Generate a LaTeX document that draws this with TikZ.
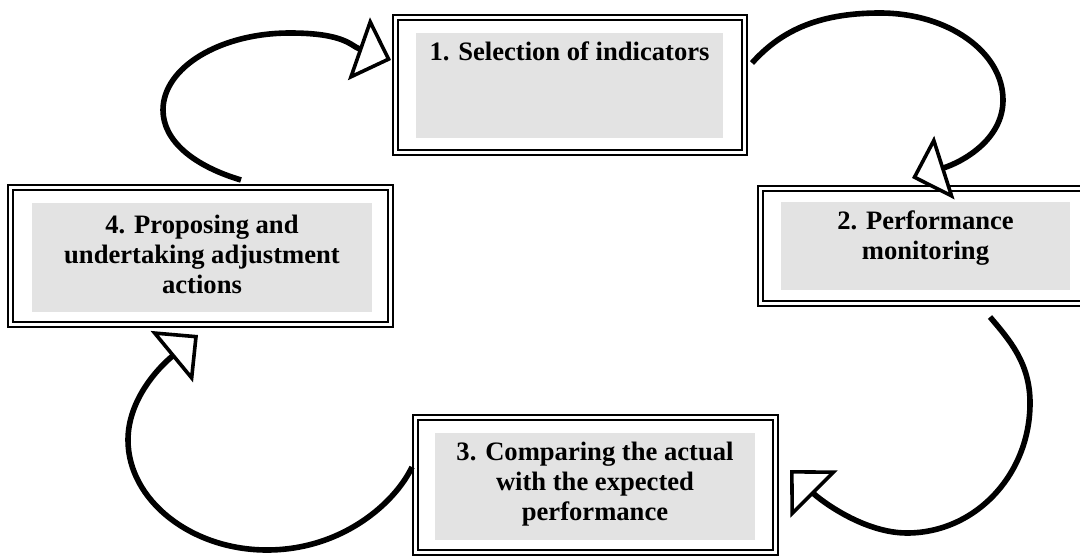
\documentclass[tikz,border=0pt]{standalone}
\usepackage{fontspec}
\setmainfont{Liberation Serif}
\usetikzlibrary{arrows.meta}
\definecolor{panelgray}{gray}{0.89}
\begin{document}
\begin{tikzpicture}[x=0.5pt,y=-0.5pt,
  frame/.style={draw,double,line width=1.1pt,double distance=1.3pt,inner sep=0pt},
  panel/.style={fill=panelgray,inner sep=0pt},
  boxtext/.style={anchor=north,align=center,inner sep=0pt,font=\fontsize{13.3}{15}\selectfont\bfseries},
  cyclearrow/.style={line width=2.8pt,-{Triangle[width=33pt,length=17pt,fill=white,line width=1.8pt]}}]

\useasboundingbox (0,0) rectangle (1080,556);

\node[frame,minimum width=174.6pt,minimum height=67.6pt] (frame1) at (570,85) {};
\node[panel,minimum width=153.5pt,minimum height=52.5pt] (panel1) at (569.5,85.5) {};
\node[boxtext] (text1) at ([yshift=-4.5pt]panel1.north) {1. Selection of indicators};

\node[frame,minimum width=165.1pt,minimum height=57.6pt] (frame2) at (925.5,246) {};
\node[panel,minimum width=144.5pt,minimum height=44pt] (panel2) at (925.5,246) {};
\node[boxtext] (text2) at ([yshift=-4.5pt]panel2.north) {2. Performance\\monitoring};

\node[frame,minimum width=180.1pt,minimum height=67.6pt] (frame3) at (595.5,485) {};
\node[panel,minimum width=160pt,minimum height=53.5pt] (panel3) at (595,486.5) {};
\node[boxtext] (text3) at ([yshift=-4.5pt]panel3.north) {3. Comparing the actual\\with the expected\\performance};

\node[frame,minimum width=190pt,minimum height=68.6pt] (frame4) at (200.5,256) {};
\node[panel,minimum width=170pt,minimum height=54.5pt] (panel4) at (202,257.5) {};
\node[boxtext] (text4) at ([yshift=-6pt]panel4.north) {4. Proposing and\\undertaking adjustment\\actions};

\coordinate (a1s) at (241,180);
\coordinate (a1e) at (391,60);
\coordinate (a2s) at (752,63);
\coordinate (a2e) at (912,178);
\coordinate (a3s) at (990,317);
\coordinate (a3e) at (790,470);
\coordinate (a4s) at (412,467);
\coordinate (a4e) at (198,335);

\draw[cyclearrow] (a1s) .. controls (194,166) and (163,141) .. (163,110) .. controls (163,67.5) and (220,33) .. (290,33) .. controls (345,33) and (351,46) .. (a1e);
\draw[cyclearrow] (a2s) .. controls (779,33) and (815,13) .. (880,13) .. controls (948,13) and (1003,52) .. (1003,100) .. controls (1003,140) and (962,162) .. (a2e);
\draw[cyclearrow] (a3s) .. controls (1009.5,340) and (1030,363) .. (1030,403) .. controls (1030,475) and (975,533) .. (907,533) .. controls (862,533) and (818,498) .. (a3e);
\draw[cyclearrow] (a4s) .. controls (395,503) and (342,550) .. (267,550) .. controls (191,550) and (128,500) .. (128,440) .. controls (128,400) and (158,368) .. (a4e);

\end{tikzpicture}
\end{document}
